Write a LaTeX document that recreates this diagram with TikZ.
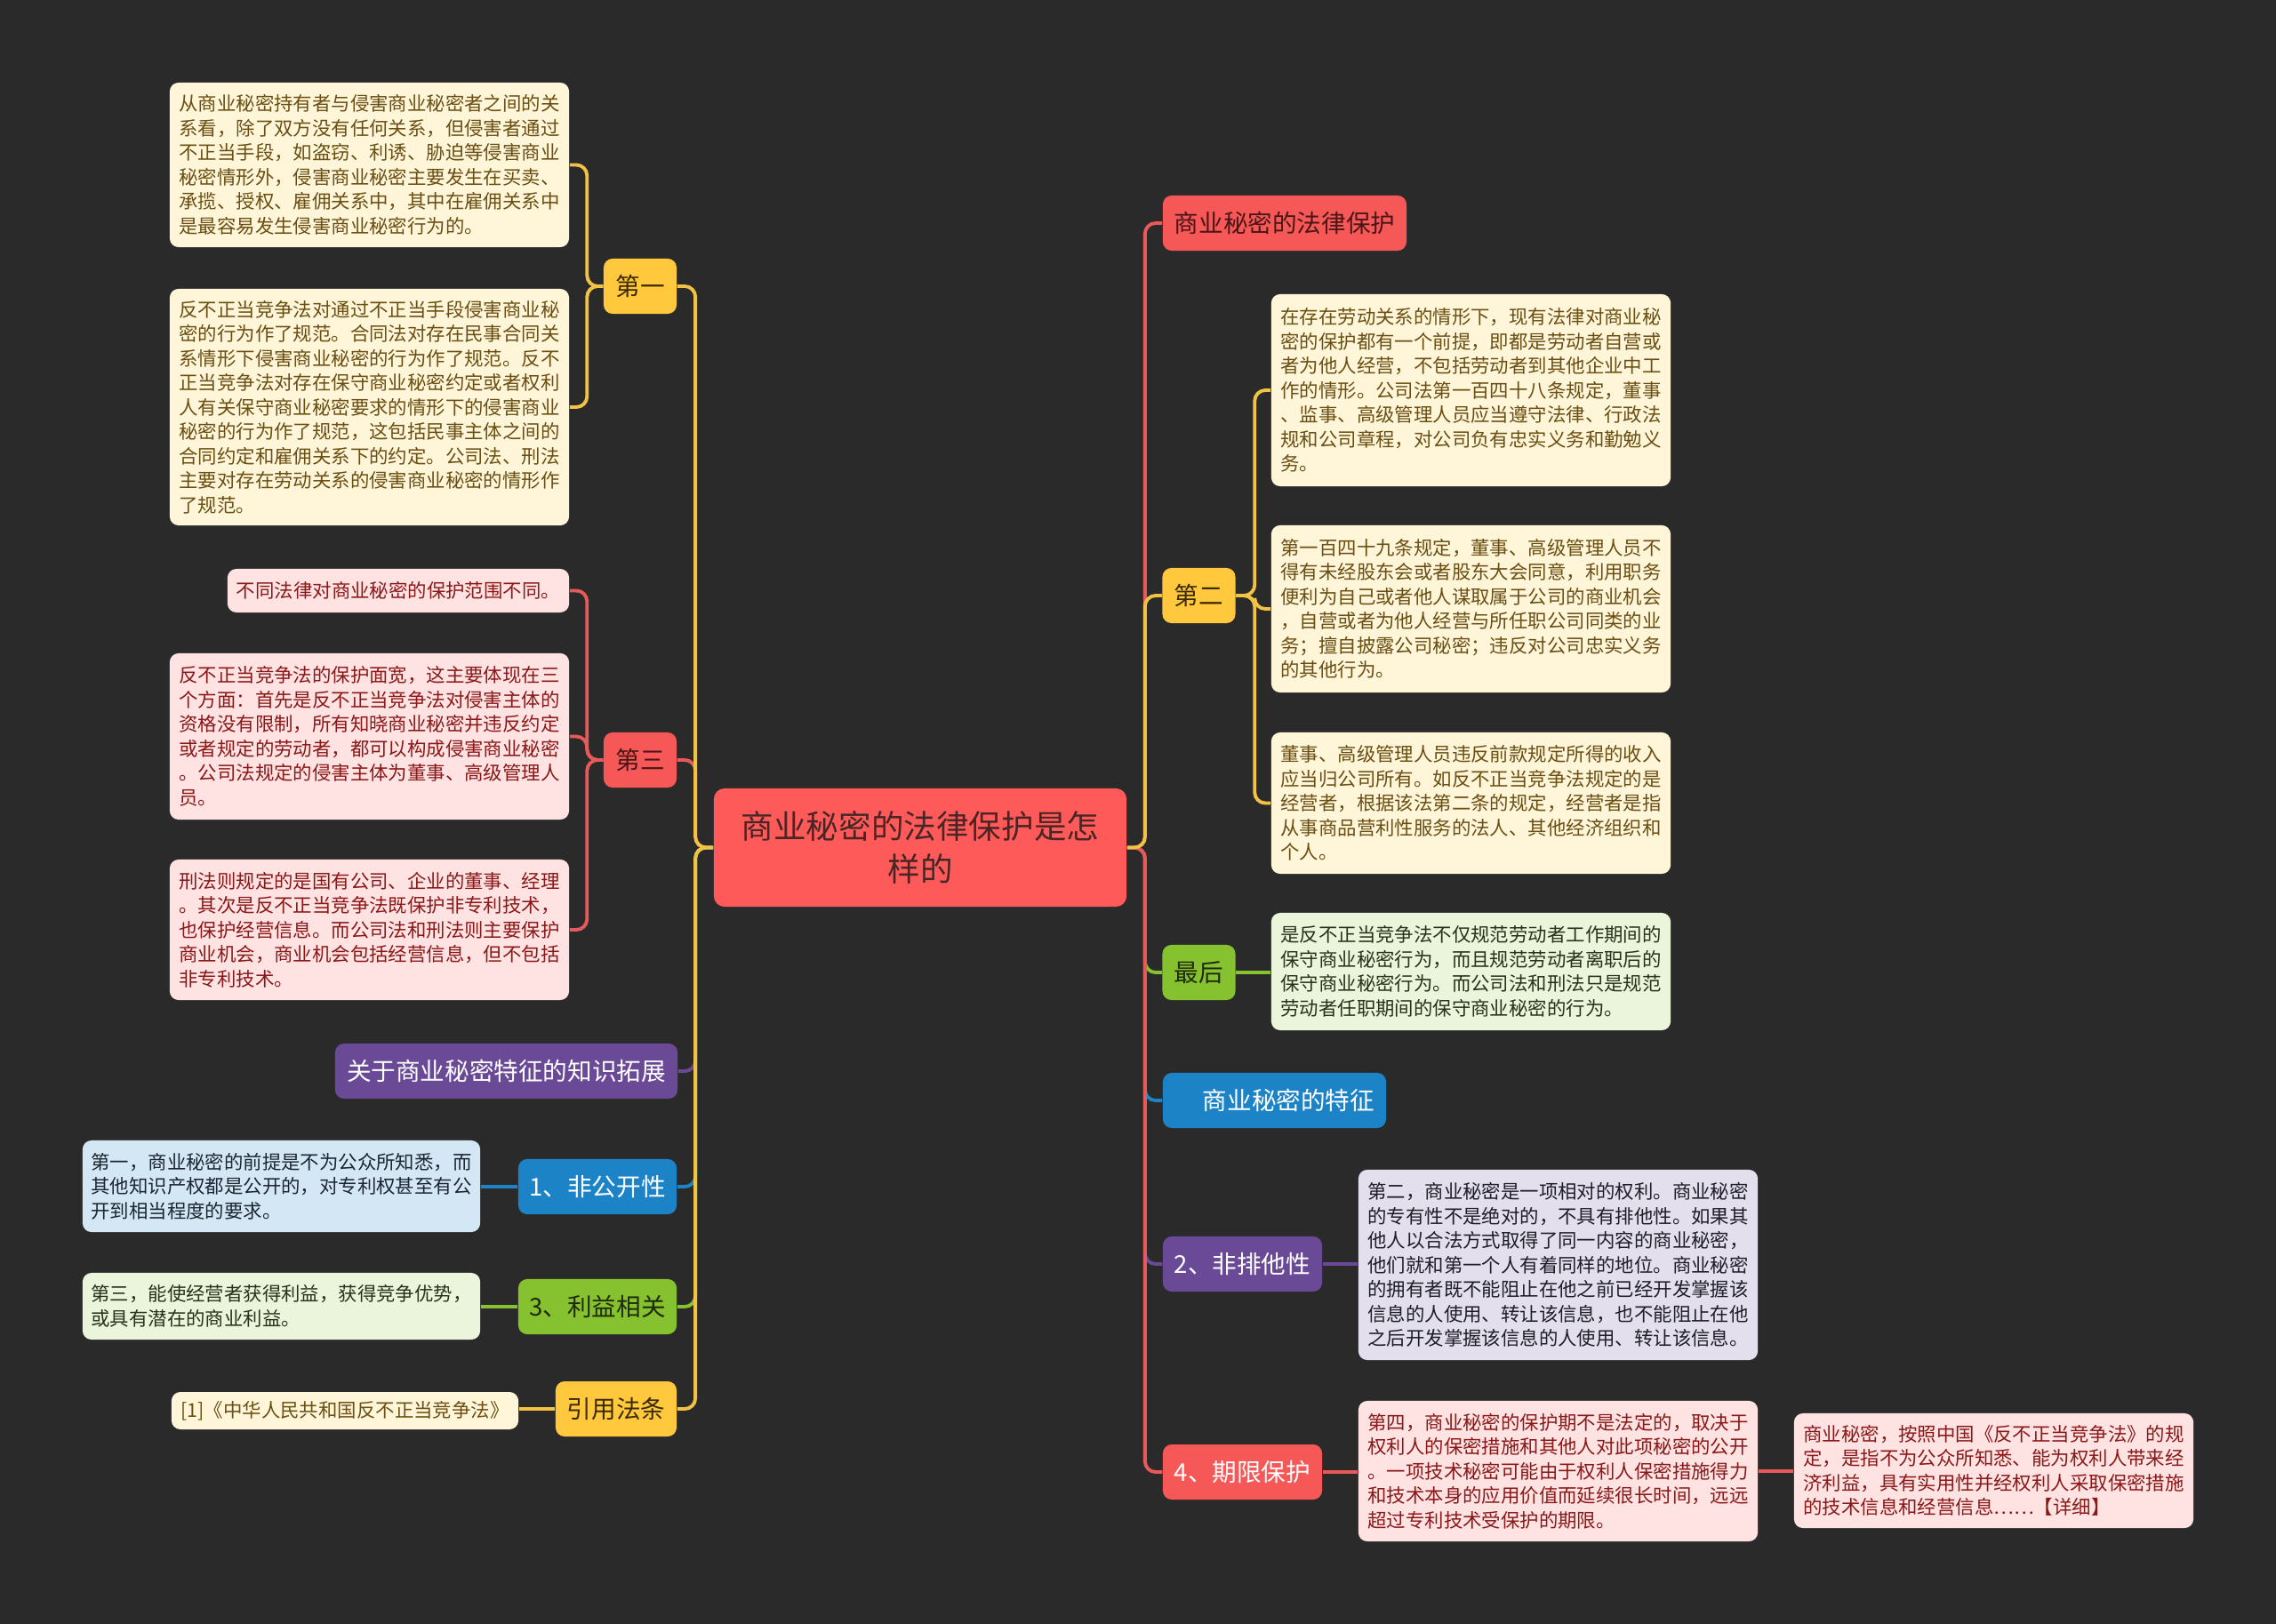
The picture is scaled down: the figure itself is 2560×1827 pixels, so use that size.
\documentclass[tikz,border=0pt]{standalone}
\usepackage{fontspec}
\setmainfont{Noto Sans CJK SC}
\definecolor{bg}{HTML}{2A2A2A}
\definecolor{cY}{HTML}{FFC83D}
\definecolor{cR}{HTML}{F65858}
\definecolor{cC}{HTML}{FF5A5A}
\definecolor{cP}{HTML}{6A4A96}
\definecolor{cB}{HTML}{1B83C6}
\definecolor{cG}{HTML}{86C12F}
\definecolor{lY}{HTML}{F2C244}
\definecolor{lR}{HTML}{E85A5A}
\definecolor{fY}{HTML}{FFF6DA}
\definecolor{fR}{HTML}{FFE2E2}
\definecolor{fB}{HTML}{D4E7F5}
\definecolor{fG}{HTML}{EBF5DC}
\definecolor{fP}{HTML}{E3DFEC}
\definecolor{tY}{HTML}{6A4E12}
\definecolor{tR}{HTML}{8A1818}
\definecolor{tB}{HTML}{1C2630}
\definecolor{tG}{HTML}{28321A}
\definecolor{tP}{HTML}{1E1E28}
\definecolor{tC}{HTML}{4A2525}
\definecolor{tYd}{HTML}{3A2A05}
\definecolor{tRd}{HTML}{4A1515}
\definecolor{tGd}{HTML}{1F2A0A}
\begin{document}
\begin{tikzpicture}[x=0.01cm,y=-0.01cm,
  tbox/.style={rounded corners=1mm, inner sep=0pt, align=left, minimum width=4.49cm,
    font=\fontsize{6.09pt}{7.82pt}\selectfont},
  midn/.style={rounded corners=1mm, inner sep=0pt, minimum height=0.62cm,
    font=\fontsize{7.85pt}{9pt}\selectfont},
  ln/.style={line width=1.1pt, rounded corners=1.2mm}]
\fill[bg] (0,0) rectangle (2560,1827);
\useasboundingbox (0,0) rectangle (2560,1827);

% center
\node[rounded corners=1.2mm, fill=cC, text=tC, inner sep=0pt, minimum width=4.64cm, minimum height=1.33cm,
  align=center, font=\fontsize{10.41pt}{13.66pt}\selectfont] (c) at (1035,953.5) {商业秘密的法律保护是怎\\样的};

% left branch nodes
\node[midn, fill=cY, text=tYd, minimum width=0.82cm] (L1) at (720,322) {第一};
\node[tbox, fill=fY, text=tY, minimum height=1.85cm] (T1) at (415.5,185.5) {从商业秘密持有者与侵害商业秘密者之间的关\\系看，除了双方没有任何关系，但侵害者通过\\不正当手段，如盗窃、利诱、胁迫等侵害商业\\秘密情形外，侵害商业秘密主要发生在买卖、\\承揽、授权、雇佣关系中，其中在雇佣关系中\\是最容易发生侵害商业秘密行为的。};
\node[tbox, fill=fY, text=tY, minimum height=2.66cm] (T2) at (415.5,458) {反不正当竞争法对通过不正当手段侵害商业秘\\密的行为作了规范。合同法对存在民事合同关\\系情形下侵害商业秘密的行为作了规范。反不\\正当竞争法对存在保守商业秘密约定或者权利\\人有关保守商业秘密要求的情形下的侵害商业\\秘密的行为作了规范，这包括民事主体之间的\\合同约定和雇佣关系下的约定。公司法、刑法\\主要对存在劳动关系的侵害商业秘密的情形作\\了规范。};

\node[midn, fill=cR, text=tRd, minimum width=0.82cm] (L3) at (720,855) {第三};
\node[tbox, fill=fR, text=tR, minimum width=3.84cm, minimum height=0.49cm] (T3a) at (448,664.5) {不同法律对商业秘密的保护范围不同。};
\node[tbox, fill=fR, text=tR, minimum height=1.87cm] (T3b) at (415.5,828.5) {反不正当竞争法的保护面宽，这主要体现在三\\个方面：首先是反不正当竞争法对侵害主体的\\资格没有限制，所有知晓商业秘密并违反约定\\或者规定的劳动者，都可以构成侵害商业秘密\\。公司法规定的侵害主体为董事、高级管理人\\员。};
\node[tbox, fill=fR, text=tR, minimum height=1.58cm] (T3c) at (415.5,1046) {刑法则规定的是国有公司、企业的董事、经理\\。其次是反不正当竞争法既保护非专利技术，\\也保护经营信息。而公司法和刑法则主要保护\\商业机会，商业机会包括经营信息，但不包括\\非专利技术。};

\node[midn, fill=cP, text=white, minimum width=3.85cm] (L4) at (569.5,1205) {关于商业秘密特征的知识拓展};

\node[midn, fill=cB, text=white, minimum width=1.78cm] (L5) at (672,1335) {1、非公开性};
\node[tbox, fill=fB, text=tB, minimum width=4.47cm, minimum height=1.03cm] (B1) at (316.5,1334.5) {第一，商业秘密的前提是不为公众所知悉，而\\其他知识产权都是公开的，对专利权甚至有公\\开到相当程度的要求。};

\node[midn, fill=cG, text=tGd, minimum width=1.78cm] (L6) at (672,1470) {3、利益相关};
\node[tbox, fill=fG, text=tG, minimum width=4.47cm, minimum height=0.75cm] (G1) at (316.5,1469.5) {第三，能使经营者获得利益，获得竞争优势，\\或具有潜在的商业利益。};

\node[midn, fill=cY, text=tYd, minimum width=1.36cm] (L7) at (693,1585) {引用法条};
\node[tbox, fill=fY, text=tY, minimum width=3.9cm, minimum height=0.42cm] (Y1) at (388,1587) {[1]《中华人民共和国反不正当竞争法》};

% right branch nodes
\node[midn, fill=cR, text=tRd, minimum width=2.74cm] (R1) at (1445,251) {商业秘密的法律保护};

\node[midn, fill=cY, text=tYd, minimum width=0.82cm] (R2) at (1348.5,670) {第二};
\node[tbox, fill=fY, text=tY, minimum height=2.16cm] (X1) at (1654.5,439) {在存在劳动关系的情形下，现有法律对商业秘\\密的保护都有一个前提，即都是劳动者自营或\\者为他人经营，不包括劳动者到其他企业中工\\作的情形。公司法第一百四十八条规定，董事\\、监事、高级管理人员应当遵守法律、行政法\\规和公司章程，对公司负有忠实义务和勤勉义\\务。};
\node[tbox, fill=fY, text=tY, minimum height=1.88cm] (X2) at (1654.5,685) {第一百四十九条规定，董事、高级管理人员不\\得有未经股东会或者股东大会同意，利用职务\\便利为自己或者他人谋取属于公司的商业机会\\，自营或者为他人经营与所任职公司同类的业\\务；擅自披露公司秘密；违反对公司忠实义务\\的其他行为。};
\node[tbox, fill=fY, text=tY, minimum height=1.59cm] (X3) at (1654.5,903.5) {董事、高级管理人员违反前款规定所得的收入\\应当归公司所有。如反不正当竞争法规定的是\\经营者，根据该法第二条的规定，经营者是指\\从事商品营利性服务的法人、其他经济组织和\\个人。};

\node[midn, fill=cG, text=tGd, minimum width=0.82cm] (R3) at (1348.5,1094) {最后};
\node[tbox, fill=fG, text=tG, minimum height=1.32cm] (X4) at (1654.5,1093) {是反不正当竞争法不仅规范劳动者工作期间的\\保守商业秘密行为，而且规范劳动者离职后的\\保守商业秘密行为。而公司法和刑法只是规范\\劳动者任职期间的保守商业秘密的行为。};

\node[midn, fill=cB, text=white, minimum width=2.51cm, text width=2.25cm, align=right] (R4) at (1433.5,1238) {商业秘密的特征};

\node[midn, fill=cP, text=white, minimum width=1.79cm] (R5) at (1397.5,1422) {2、非排他性};
\node[tbox, fill=fP, text=tP, minimum height=2.14cm] (X5) at (1752.5,1423) {第二，商业秘密是一项相对的权利。商业秘密\\的专有性不是绝对的，不具有排他性。如果其\\他人以合法方式取得了同一内容的商业秘密，\\他们就和第一个人有着同样的地位。商业秘密\\的拥有者既不能阻止在他之前已经开发掌握该\\信息的人使用、转让该信息，也不能阻止在他\\之后开发掌握该信息的人使用、转让该信息。};

\node[midn, fill=cR, text=white, minimum width=1.79cm] (R6) at (1397.5,1656) {4、期限保护};
\node[tbox, fill=fR, text=tR, minimum height=1.58cm] (X6) at (1752.5,1655) {第四，商业秘密的保护期不是法定的，取决于\\权利人的保密措施和其他人对此项秘密的公开\\。一项技术秘密可能由于权利人保密措施得力\\和技术本身的应用价值而延续很长时间，远远\\超过专利技术受保护的期限。};
\node[tbox, fill=fR, text=tR, minimum height=1.29cm] (X7) at (2242.5,1654.5) {商业秘密，按照中国《反不正当竞争法》的规\\定，是指不为公众所知悉、能为权利人带来经\\济利益，具有实用性并经权利人采取保密措施\\的技术信息和经营信息……【详细】};

% main connectors left
\draw[ln, lR] (c.west) -- ++(-20,0) |- (L3.east);
\draw[ln, cP] (c.west) -- ++(-20,0) |- (L4.east);
\draw[ln, cB] (c.west) -- ++(-20,0) |- (L5.east);
\draw[ln, cG] (c.west) -- ++(-20,0) |- (L6.east);
\draw[ln, lY] (c.west) -- ++(-20,0) |- (L1.east);
\draw[ln, lY] (c.west) -- ++(-20,0) |- (L7.east);

% main connectors right
\draw[ln, cG] (c.east) -- ++(20,0) |- (R3.west);
\draw[ln, cB] (c.east) -- ++(20,0) |- (R4.west);
\draw[ln, cP] (c.east) -- ++(20,0) |- (R5.west);
\draw[ln, lR] (c.east) -- ++(20,0) |- (R6.west);
\draw[ln, lR] (c.east) -- ++(20,0) |- (R1.west);
\draw[ln, lY] (c.east) -- ++(20,0) |- (R2.west);

% child connectors
\draw[ln, lY] (L1.west) -- ++(-18,0) |- (T1.east);
\draw[ln, lY] (L1.west) -- ++(-18,0) |- (T2.east);
\draw[ln, lR] (L3.west) -- ++(-18,0) |- (T3a.east);
\draw[ln, lR] (L3.west) -- ++(-18,0) |- (T3b.east);
\draw[ln, lR] (L3.west) -- ++(-18,0) |- (T3c.east);
\draw[ln, cB] (L5.west) -- (L5.west -| B1.east);
\draw[ln, cG] (L6.west) -- (L6.west -| G1.east);
\draw[ln, lY] (L7.west) -- (L7.west -| Y1.east);

\draw[ln, lY] (R2.east) -- ++(21,0) |- (X1.west);
\draw[ln, lY] (R2.east) -- ++(21,0) |- (X2.west);
\draw[ln, lY] (R2.east) -- ++(21,0) |- (X3.west);
\draw[ln, cG] (R3.east) -- (R3.east -| X4.west);
\draw[ln, cP] (R5.east) -- (R5.east -| X5.west);
\draw[ln, lR] (R6.east) -- (R6.east -| X6.west);
\draw[ln, lR] (X6.east) -- (X6.east -| X7.west);
\end{tikzpicture}
\end{document}
